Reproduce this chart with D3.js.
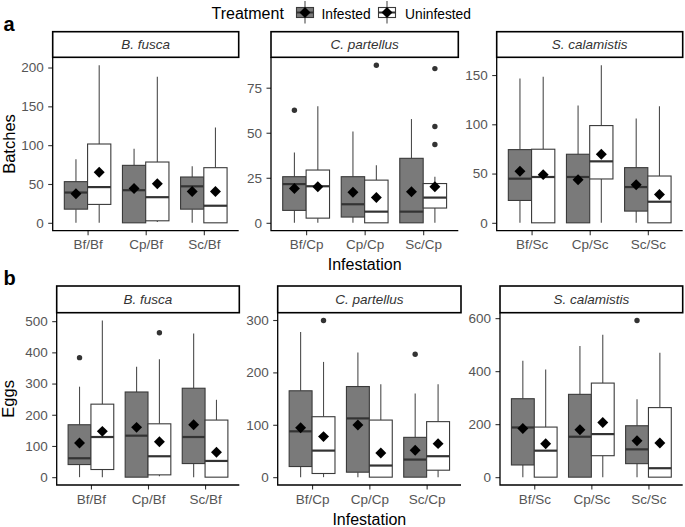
<!DOCTYPE html>
<html><head><meta charset="utf-8">
<script src="https://cdn.jsdelivr.net/npm/d3@7"></script>
<style>body{margin:0;background:#fff}svg{display:block;font-family:"Liberation Sans",Arial,sans-serif}</style>
</head><body><svg id="chart" width="685" height="527"></svg>
<script>
// ---------- DATA ----------
const speciesNames = ["B. fusca", "C. partellus", "S. calamistis"];
const infestationCategories = [["Bf/Bf","Cp/Bf","Sc/Bf"],["Bf/Cp","Cp/Cp","Sc/Cp"],["Bf/Sc","Cp/Sc","Sc/Sc"]];
const treatments = ["Infested", "Uninfested"];
// stats: [min, q1, median, q3, max] per facet per category
const batchesInfested = [
  [[0,17.6,39,53,82],[0,0,42,74,95.5],[0,17.6,47,59,73]],
  [[0,6.9,21.5,25.6,39],[0,3.2,10.3,25.6,50.7],[0,0,6.2,35.8,57.6]],
  [[0,22.7,44.8,74.3,146.6],[0,0,46.5,69.6,119],[0,11.9,36.3,56,106]]
];
const batchesUninfested = [
  [[0,23.7,46,101.5,203],[1,2.6,33,78.3,188],[0,0,22,71,122.6]],
  [[0,2.6,20.3,29.3,64.7],[0,0,6.2,23.7,32],[0,8.2,14,21.8,25.6]],
  [[0,0,46.5,74.7,148.3],[0,44.5,62.4,98.7,160],[0,0,21.4,47.5,118.4]]
];
const batchesInfestedMean = [[37.4,44.3,40.4],[19,17,17.2],[52.3,43.8,38.7]];
const batchesUninfestedMean = [[65,50.3,40.4],[20,14,20],[48.9,69.6,28.8]];
const batchesInfestedOutliers = [[[],[],[]],[[62.5],[],[]],[[],[],[]]];
const batchesUninfestedOutliers = [[[],[],[]],[[],[87.5],[85.6,53.5,43.5]],[[],[],[]]];
const batchesTicks = [[0,50,100,150,200],[0,25,50,75],[0,50,100,150]];

const eggsInfested = [
  [[0,40.4,60.6,168,290],[0,0,133,273,354],[0,43.6,128.7,285,460.6]],
  [[0,20.3,87.5,164.9,277],[0,9.5,112.2,173,237.8],[0,0,33.6,76,159.8]],
  [[0,46,187.5,296,438.8],[0,0,152.5,312.5,495],[0,51,105,194,293.8]]
];
const eggsUninfested = [
  [[0,24.5,128.7,234,502],[3,7.4,67,171,377.7],[0,0,52,183,248]],
  [[0,7,50.7,115.4,220],[0,0,22.2,109,177.6],[0,13.3,40,106,177.6]],
  [[0,0,100,189,406],[0,81,162.5,355,537.5],[0,0,33.8,262.5,469]]
];
const eggsInfestedMean = [[109.6,159.6,168],[94.5,99.6,51.4],[184,179,137.5]];
const eggsUninfestedMean = [[146.8,113.8,79.8],[77.4,46.3,64],[126,206,129]];
const eggsInfestedOutliers = [[[383],[],[]],[[],[],[234.6]],[[],[],[591]]];
const eggsUninfestedOutliers = [[[],[462.8],[]],[[299],[],[]],[[],[],[]]];
const eggsTicks = [[0,100,200,300,400,500],[0,100,200,300],[0,200,400,600]];

// ---------- LAYOUT ----------
const fills = {Infested: "#7a7a7a", Uninfested: "#ffffff"};
const svg = d3.select("#chart");

const panels = [
  {label: "a", labelY: 30.5, yTitle: "Batches", yTitleX: 15, stripTop: 31.7, top: 57.3, bottom: 230.7,
   xr: [[52.7,238.7],[271,458.3],[496.7,682.7]],
   inf: batchesInfested, uninf: batchesUninfested, infMean: batchesInfestedMean, uninfMean: batchesUninfestedMean,
   infOut: batchesInfestedOutliers, uninfOut: batchesUninfestedOutliers, ticks: batchesTicks},
  {label: "b", labelY: 285, yTitle: "Eggs", yTitleX: 14, stripTop: 286, top: 312.7, bottom: 485,
   xr: [[56.7,239.3],[277.7,461],[500,682.7]],
   inf: eggsInfested, uninf: eggsUninfested, infMean: eggsInfestedMean, uninfMean: eggsUninfestedMean,
   infOut: eggsInfestedOutliers, uninfOut: eggsUninfestedOutliers, ticks: eggsTicks}
];

const diamond = d3.symbol().type(d3.symbolSquare).size(60);

function drawBox(g, cx, w, st, mean, outs, fill, y) {
  g.append("line").attr("x1", cx).attr("x2", cx).attr("y1", y(st[3])).attr("y2", y(st[4]))
    .attr("stroke", "#4d4d4d").attr("stroke-width", 1.1);
  g.append("line").attr("x1", cx).attr("x2", cx).attr("y1", y(st[1])).attr("y2", y(st[0]))
    .attr("stroke", "#4d4d4d").attr("stroke-width", 1.1);
  g.append("rect").attr("x", cx - w/2).attr("width", w)
    .attr("y", y(st[3])).attr("height", y(st[1]) - y(st[3]))
    .attr("fill", fill).attr("stroke", "#3a3a3a").attr("stroke-width", 1.1);
  g.append("line").attr("x1", cx - w/2).attr("x2", cx + w/2).attr("y1", y(st[2])).attr("y2", y(st[2]))
    .attr("stroke", "#333").attr("stroke-width", 2.2);
  outs.forEach(o => g.append("circle").attr("cx", cx).attr("cy", y(o)).attr("r", 2.7).attr("fill", "#333"));
  g.append("path").attr("d", diamond).attr("transform", `translate(${cx},${y(mean)}) rotate(45)`).attr("fill", "#000");
}

panels.forEach(p => {
  svg.append("text").attr("x", 3.5).attr("y", p.labelY).text(p.label)
    .attr("font-size", 20).attr("font-weight", "bold").attr("fill", "#000");
  const yMid = (p.top + p.bottom) / 2;
  svg.append("text").attr("transform", `translate(${p.yTitleX},${yMid}) rotate(-90)`)
    .attr("text-anchor", "middle").attr("font-size", 16.5).attr("fill", "#000").text(p.yTitle);
  svg.append("text").attr("x", (p.xr[1][0] + p.xr[1][1]) / 2).attr("y", p.bottom + 39.5)
    .attr("text-anchor", "middle").attr("font-size", 16).attr("fill", "#000").text("Infestation");

  speciesNames.forEach((sp, f) => {
    const [x0, x1] = p.xr[f];
    const allVals = [].concat(...p.inf[f], ...p.uninf[f], ...p.infOut[f].flat(), ...p.uninfOut[f].flat());
    const M = d3.max(allVals);
    const y = d3.scaleLinear().domain([-0.05 * M, 1.05 * M]).range([p.bottom, p.top]);
    const x = d3.scalePoint().domain(infestationCategories[f]).range([x0, x1]).padding(0.6);
    const bw = 0.4 * x.step();
    const g = svg.append("g");

    infestationCategories[f].forEach((cat, i) => {
      const cx = x(cat);
      drawBox(g, cx - bw/2, bw, p.inf[f][i], p.infMean[f][i], p.infOut[f][i], fills.Infested, y);
      drawBox(g, cx + bw/2, bw, p.uninf[f][i], p.uninfMean[f][i], p.uninfOut[f][i], fills.Uninfested, y);
    });

    const ya = svg.append("g").attr("transform", `translate(${x0},0)`)
      .call(d3.axisLeft(y).tickValues(p.ticks[f]).tickSize(4.5).tickPadding(4.5));
    ya.select(".domain").remove();
    ya.selectAll(".tick line").attr("stroke", "#333").attr("stroke-width", 1.1);
    ya.selectAll(".tick text").attr("font-size", 13.5).attr("fill", "#555")
      .attr("font-family", "Liberation Sans, Arial, sans-serif");
    const xa = svg.append("g").attr("transform", `translate(0,${p.bottom})`)
      .call(d3.axisBottom(x).tickSize(4.5).tickPadding(4.5));
    xa.select(".domain").remove();
    xa.selectAll(".tick line").attr("stroke", "#333").attr("stroke-width", 1.1);
    xa.selectAll(".tick text").attr("font-size", 13.5).attr("fill", "#555")
      .attr("font-family", "Liberation Sans, Arial, sans-serif");
    svg.append("path").attr("d", `M${x0},${p.top}V${p.bottom}H${x1}`)
      .attr("fill", "none").attr("stroke", "#000").attr("stroke-width", 1.3);

    svg.append("rect").attr("x", x0).attr("y", p.stripTop).attr("width", x1 - x0).attr("height", p.top - p.stripTop)
      .attr("fill", "#fff").attr("stroke", "#000").attr("stroke-width", 1.6);
    svg.append("text").attr("x", (x0 + x1) / 2).attr("y", (p.stripTop + p.top) / 2 + 4.8)
      .attr("text-anchor", "middle").attr("font-size", 13.5).attr("font-style", "italic")
      .attr("fill", "#333").text(sp);
  });
});

// legend
const leg = svg.append("g");
leg.append("text").attr("x", 211.5).attr("y", 19).attr("font-size", 16).attr("fill", "#000").text("Treatment");
const keyX = [305, 387];
const labX = [321.5, 405];
treatments.forEach((t, i) => {
  const cx = keyX[i];
  leg.append("line").attr("x1", cx).attr("x2", cx).attr("y1", 1).attr("y2", 23.5).attr("stroke", "#4d4d4d").attr("stroke-width", 1.1);
  leg.append("rect").attr("x", cx - 8.5).attr("y", 7.5).attr("width", 17).attr("height", 10)
    .attr("fill", fills[t]).attr("stroke", "#3a3a3a").attr("stroke-width", 1.1);
  leg.append("line").attr("x1", cx - 8.5).attr("x2", cx + 8.5).attr("y1", 12.5).attr("y2", 12.5).attr("stroke", "#333").attr("stroke-width", 2);
  leg.append("path").attr("d", diamond).attr("transform", `translate(${cx},12.5) rotate(45)`).attr("fill", "#000");
  leg.append("text").attr("x", labX[i]).attr("y", 19).attr("font-size", 13.8).attr("fill", "#000").text(t);
});
</script></body></html>
